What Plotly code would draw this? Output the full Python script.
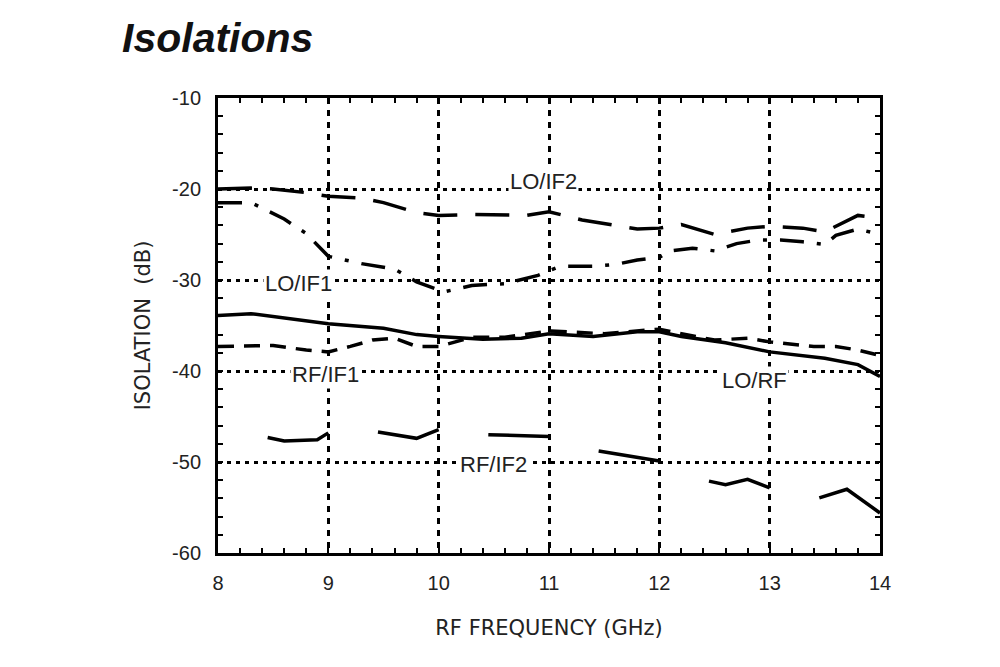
import plotly.graph_objects as go

# RF frequency (GHz) and isolation (dB)
lo_rf_x = [8.0, 8.3, 9.0, 9.5, 9.8, 10.0, 10.4, 10.75, 11.0, 11.4, 11.8, 12.0, 12.2, 12.6, 13.0, 13.5, 13.8, 14.0]
lo_rf_y = [-33.9, -33.7, -34.8, -35.3, -36.0, -36.2, -36.5, -36.4, -35.9, -36.2, -35.7, -35.7, -36.2, -36.9, -37.9, -38.6, -39.3, -40.6]

rf_if1_x = [8.0, 8.5, 8.8, 9.0, 9.2, 9.4, 9.6, 9.8, 10.0, 10.3, 10.6, 11.0, 11.5, 12.0, 12.2, 12.5, 12.8, 13.0, 13.4, 13.6, 13.8, 14.0]
rf_if1_y = [-37.3, -37.2, -37.7, -37.9, -37.3, -36.6, -36.4, -37.3, -37.3, -36.3, -36.3, -35.6, -35.9, -35.4, -35.9, -36.6, -36.4, -36.8, -37.3, -37.3, -37.7, -38.3]

lo_if2_x = [8.0, 8.3, 8.5, 8.8, 9.0, 9.3, 9.5, 9.8, 10.0, 10.3, 10.8, 11.0, 11.3, 11.6, 11.8, 12.0, 12.2, 12.5, 12.8, 13.0, 13.3, 13.5, 13.6, 13.8, 14.0]
lo_if2_y = [-20.0, -19.9, -20.0, -20.4, -20.8, -21.0, -21.5, -22.6, -22.9, -22.8, -22.9, -22.5, -23.4, -24.0, -24.4, -24.3, -23.9, -25.0, -24.3, -24.1, -24.3, -24.7, -24.1, -22.9, -23.2]

lo_if1_x = [8.0, 8.3, 8.4, 8.6, 8.8, 8.9, 9.0, 9.3, 9.6, 9.8, 9.9, 10.05, 10.3, 10.6, 10.9, 11.1, 11.4, 11.6, 11.8, 12.0, 12.1, 12.3, 12.5, 12.7, 12.9, 13.1, 13.3, 13.5, 13.6, 13.8, 14.0]
lo_if1_y = [-21.5, -21.5, -22.1, -23.3, -24.9, -26.2, -27.4, -28.2, -28.8, -30.2, -30.6, -31.3, -30.6, -30.4, -29.5, -28.5, -28.5, -28.3, -27.8, -27.5, -26.8, -26.5, -26.8, -26.0, -25.6, -25.6, -25.8, -26.1, -25.1, -24.4, -25.0]

# RF/IF2 is drawn as separate long segments
rf_if2_x = [8.45, 8.6, 8.9, 9.0, None, 9.45, 9.8, 10.0, None, 10.45, 11.0, None, 11.45, 12.0, None, 12.45, 12.6, 12.8, 13.0, None, 13.45, 13.7, 14.0]
rf_if2_y = [-47.3, -47.7, -47.55, -46.8, None, -46.7, -47.4, -46.45, None, -47.0, -47.2, None, -48.8, -49.9, None, -52.1, -52.5, -51.9, -52.85, None, -53.95, -53.0, -55.6]

label_text = ["LO/IF2", "LO/IF1", "RF/IF1", "LO/RF", "RF/IF2"]
label_x = [10.95, 8.73, 8.97, 12.86, 10.5]
label_y = [-19.2, -30.4, -40.4, -41.0, -50.3]

x_ticks = [8, 9, 10, 11, 12, 13, 14]
x_tick_text = ["8", "9", "10", "11", "12", "13", "14"]
y_ticks = [-10, -20, -30, -40, -50, -60]
y_tick_text = ["-10", "-20", "-30", "-40", "-50", "-60"]

font = "Liberation Sans, Arial, sans-serif"
wide_font = "DejaVu Sans, Liberation Sans, sans-serif"

fig = go.Figure()
fig.add_trace(go.Scatter(x=lo_if2_x, y=lo_if2_y, mode="lines", name="LO/IF2",
                         line=dict(color="black", width=3.5, dash="34px,18px")))
fig.add_trace(go.Scatter(x=lo_if1_x, y=lo_if1_y, mode="lines", name="LO/IF1",
                         line=dict(color="black", width=3.5, dash="24px,13px,4px,13px")))
fig.add_trace(go.Scatter(x=rf_if1_x, y=rf_if1_y, mode="lines", name="RF/IF1",
                         line=dict(color="black", width=3.5, dash="16px,10px")))
fig.add_trace(go.Scatter(x=lo_rf_x, y=lo_rf_y, mode="lines", name="LO/RF",
                         line=dict(color="black", width=3.5)))
fig.add_trace(go.Scatter(x=rf_if2_x, y=rf_if2_y, mode="lines", name="RF/IF2",
                         connectgaps=False, line=dict(color="black", width=3.5)))

for t, x, y in zip(label_text, label_x, label_y):
    fig.add_annotation(x=x, y=y, text=t, showarrow=False, bgcolor="white",
                       font=dict(family=font, size=22, color="#222"), borderpad=1)

axis_common = dict(
    showline=True, linecolor="black", linewidth=3, mirror="allticks",
    ticks="inside", ticklen=5, tickwidth=2, tickcolor="black",
    showgrid=True, gridcolor="black", gridwidth=2.5,
    zeroline=False, tickfont=dict(family=font, size=20, color="#222"),
    ticklabelstandoff=10,
)

fig.update_xaxes(range=[8, 14], tickvals=x_ticks, ticktext=x_tick_text, griddash="6px,6px",
                 minor=dict(dtick=0.2, ticks="inside", ticklen=5, tickwidth=2, tickcolor="black", showgrid=False),
                 title=dict(text="RF FREQUENCY (GHz)", font=dict(family=wide_font, size=21, color="#222"), standoff=28),
                 **axis_common)
fig.update_yaxes(range=[-60, -10], tickvals=y_ticks, ticktext=y_tick_text, griddash="4px,5px",
                 minor=dict(dtick=2, ticks="inside", ticklen=5, tickwidth=2, tickcolor="black", showgrid=False),
                 title=dict(text="ISOLATION&nbsp; (dB)", font=dict(family=wide_font, size=21, color="#222"), standoff=16),
                 **axis_common)

fig.update_layout(
    width=1000, height=667,
    margin=dict(l=210, r=128, t=90, b=122),
    paper_bgcolor="white", plot_bgcolor="white",
    showlegend=False,
    title=dict(text="<b><i>Isolations</i></b>", x=0.114, xanchor="left", y=0.955, yanchor="middle",
               font=dict(family=font, size=41, color="#111")),
)

fig.write_html("out.html")
